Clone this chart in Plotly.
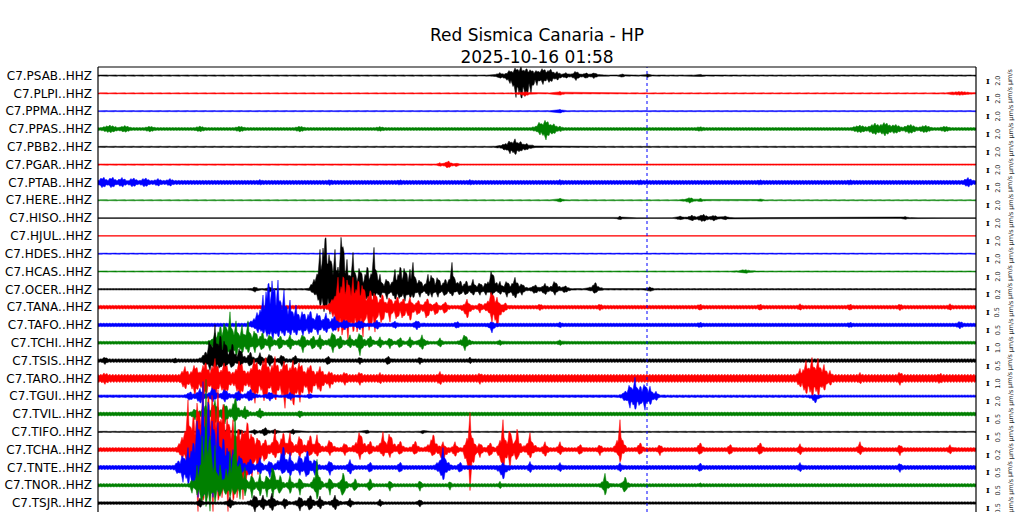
import numpy as np
import plotly.graph_objects as go

TITLE = "Red Sismica Canaria - HP<br>2025-10-16 01:58"

STATIONS = ["C7.PSAB..HHZ", "C7.PLPI..HHZ", "C7.PPMA..HHZ", "C7.PPAS..HHZ", "C7.PBB2..HHZ",
            "C7.PGAR..HHZ", "C7.PTAB..HHZ", "C7.HERE..HHZ", "C7.HISO..HHZ", "C7.HJUL..HHZ",
            "C7.HDES..HHZ", "C7.HCAS..HHZ", "C7.OCER..HHZ", "C7.TANA..HHZ", "C7.TAFO..HHZ",
            "C7.TCHI..HHZ", "C7.TSIS..HHZ", "C7.TARO..HHZ", "C7.TGUI..HHZ", "C7.TVIL..HHZ",
            "C7.TIFO..HHZ", "C7.TCHA..HHZ", "C7.TNTE..HHZ", "C7.TNOR..HHZ", "C7.TSJR..HHZ"]

SCALES = ["2.0"] * 12 + ["0.2", "0.5", "0.5", "1.0", "0.5", "1.0", "2.0", "0.5", "0.5",
                         "0.2", "0.5", "0.5", "0.5"]

PALETTE = ["#000000", "#ff0000", "#0000ff", "#008000"]

# time window (arbitrary seconds) and marker time
T_START, T_END = 98, 976
MARK_TIME = 647

# background noise half-amplitude per trace
NOISE = [0.6, 0.6, 0.6, 1.6, 0.6, 0.7, 2.2, 0.6, 0.4, 0.4, 0.6, 0.6, 0.8,
         2.0, 1.9, 1.6, 1.9, 4.2, 1.3, 2.0, 0.6, 2.2, 2.2, 1.8, 1.4]

# bursts: (time, amplitude up, amplitude down, half duration)
SPIKES = [
    # PSAB
    [(500,3,3,5),(510,6,8,4),(516,9,22,4),(521,9,27,4),(526,8,25,4),(531,7,18,4),(537,6,10,4),
     (543,8,9,5),(550,7,8,5),(557,4,5,5),(566,3,3,4),(576,5,5,4),(586,3,3,4),(594,3,3,4),
     (622,2,2,3),(648,2,2,3),(700,1.5,1.5,3)],
    # PLPI
    [(525,2,3,5),(560,2,2,5),(960,2,2,15)],
    # PPMA
    [(560,2,2,5)],
    # PPAS
    [(110,4,4,10),(125,3.5,3.5,8),(150,3,3,8),(200,3,3,8),(240,3,3,8),(300,3,3,8),(380,2.5,2.5,8),
     (540,8,6,4),(546,10,11,5),(553,6,6,5),(560,3,3,5),(700,2.5,2.5,8),(860,4,4,10),(875,6,6,8),
     (885,7,7,8),(895,5,5,8),(910,5,5,8),(925,4,4,8),(945,3,3,8)],
    # PBB2
    [(505,4,4,4),(510,7,7,4),(515,8,9,4),(520,6,6,4),(526,4,4,4),(532,2,2,4)],
    # PGAR
    [(448,4,4,4),(440,2,2,3),(456,2,2,3)],
    # PTAB
    [(103,6,6,5),(112,6,6,5),(122,5,5,6),(133,5,5,6),(145,5,5,6),(158,4,4,6),(170,4,4,6),
     (260,3,3,6),(330,3,3,6),(400,3,3,6),(470,3,3,6),(560,3,3,6),
     (640,3,3,6),(760,3,3,6),(850,3,3,6),(968,5,5,6)],
    # HERE
    [(690,3,3,5),(700,2,2,4),(560,2,2,4),(760,1.5,1.5,4)],
    # HISO
    [(620,2,2,3),(680,2,2,4),(692,3,3,5),(703,4,4,6),(714,3,3,5),(725,2,2,4),(905,1.5,1.5,4)],
    # HJUL
    [],
    # HDES
    [],
    # HCAS
    [(745,2,2,8)],
    # OCER
    [(255,3,3,3),(270,3,3,3),(313,3,3,4),(320,40,20,3),(325,62,27,4),(330,45,25,3),(335,40,22,3),
     (342,67,20,3),(347,30,15,3),(353,37,15,3),(360,27,13,3),(367,27,13,3),(374,42,12,3),
     (380,15,10,3),(387,13,10,3),(395,20,12,3),(400,27,12,3),(405,27,12,3),(410,20,10,3),
     (413,27,10,3),(420,12,8,3),(428,15,8,3),(432,18,8,3),(438,15,8,3),(445,12,8,3),
     (452,27,8,3),(460,10,7,3),(466,10,7,3),(473,10,7,3),(480,8,6,3),(486,8,6,3),(492,23,8,3),
     (500,8,6,3),(507,10,8,3),(515,12,10,4),(522,7,6,3),(535,5,5,4),(545,6,6,4),(555,10,6,3),
     (565,4,4,4),(595,8,5,3),(650,2.5,2.5,4)],
    # TANA
    [(333,10,10,3),(338,30,30,3),(343,37,36,3),(348,35,33,3),(353,30,30,3),(358,32,32,3),
     (363,28,30,3),(370,20,30,3),(375,18,25,3),(382,15,20,3),(390,12,15,3),(397,12,15,3),
     (403,10,14,3),(410,10,16,3),(418,8,10,3),(427,10,14,3),(436,6,10,3),(445,6,8,3),
     (467,8,13,3),(480,5,6,3),(492,19,16,3),(497,10,24,3),(505,5,5,3),(540,3.5,3.5,4),
     (600,3.5,3.5,4),(700,3.5,3.5,4),(760,3.5,3.5,4),(800,3.5,3.5,4),(850,3.5,3.5,4),
     (900,3.5,3.5,4),(950,3.5,3.5,4)],
    # TAFO
    [(258,15,8,4),(263,30,10,4),(268,50,14,4),(273,53,15,4),(278,45,14,4),(284,35,13,4),
     (290,25,12,4),(296,20,12,4),(303,16,11,4),(310,16,11,4),(318,14,10,4),(326,12,9,4),
     (334,10,8,4),(345,6,5,5),(360,5,5,5),(377,5,5,4),(395,4,4,4),(417,5,5,4),(457,4,4,4),
     (492,4,8,3),(560,3,3,5),(700,3,3,5),(850,3,3,5),(960,4,4,5)],
    # TCHI
    [(215,10,10,3),(220,20,15,3),(225,25,17,3),(230,31,17,3),(236,22,15,3),(242,18,12,3),
     (248,22,12,3),(255,15,10,3),(262,12,9,3),(270,10,8,3),(280,8,8,3),(290,8,8,3),
     (303,10,10,3),(313,8,8,3),(320,8,8,3),(333,13,10,3),(340,8,8,3),(350,8,6,3),(360,12,13,3),
     (370,8,6,3),(380,6,6,3),(390,6,6,3),(400,6,6,3),(410,6,6,3),(422,8,8,3),(440,5,5,3),
     (465,10,8,3),(500,3,3,4),(560,3,3,4)],
    # TSIS
    [(105,4,4,4),(175,3,3,3),(205,10,6,3),(210,25,10,3),(215,36,11,3),(220,30,10,3),
     (225,25,10,3),(232,20,9,3),(240,15,8,3),(250,10,7,3),(260,8,6,3),(270,8,6,3),(282,7,6,3),
     (295,6,5,3),(328,5,5,3),(360,4,4,3),(388,5,5,3),(420,4,4,3),(470,3.5,3.5,3)],
    # TARO
    [(105,6,6,8),(185,12,12,5),(195,15,18,5),(205,18,20,5),(215,20,22,5),(225,18,20,5),
     (240,20,22,5),(255,22,25,5),(265,24,26,5),(275,22,25,5),(285,20,30,5),(293,18,31,5),
     (300,18,24,5),(310,15,20,5),(320,12,15,5),(330,8,10,5),(345,7,7,5),(360,7,7,5),
     (380,6,6,5),(440,7,7,5),(480,6,6,5),(800,10,10,4),(806,18,18,4),(812,21,21,4),
     (818,20,20,4),(824,14,14,4),(830,8,8,4),(860,6,6,5),(900,7,7,5),(940,6,6,5)],
    # TGUI
    [(190,5,5,4),(200,8,8,4),(213,10,6,4),(225,8,6,4),(238,6,6,4),(250,8,6,4),(270,5,5,4),
     (290,4,4,4),(310,3,3,4),(625,6,6,3),(630,14,12,3),(635,19,16,3),(640,12,12,3),
     (645,15,14,3),(650,10,10,3),(656,5,5,3),(815,2,8,3)],
    # TVIL
    [(195,6,6,4),(205,10,8,4),(215,14,10,4),(225,12,10,4),(235,19,10,3),(245,8,6,4),
     (260,6,5,4),(300,4,4,4)],
    # TIFO
    [(227,3,3,3),(240,3,3,3),(255,3,3,3),(265,5,5,3),(275,3,3,3),(293,3,3,3),(367,2,2,3),
     (423,2,2,3)],
    # TCHA
    [(182,10,10,3),(188,50,20,3),(193,40,40,3),(198,60,62,3),(203,70,62,3),(208,65,62,3),
     (213,70,62,3),(218,60,62,3),(223,55,62,3),(228,40,62,3),(233,30,62,3),(238,25,62,3),
     (243,25,50,3),(247,33,40,3),(252,20,30,3),(258,15,25,3),(265,12,15,3),(275,20,10,3),
     (283,20,10,3),(290,17,8,3),(300,17,8,3),(310,17,8,3),(317,15,8,3),(330,12,6,3),
     (345,8,6,3),(360,22,10,3),(370,10,6,3),(383,18,8,3),(390,20,8,3),(400,10,6,3),
     (415,10,6,3),(433,18,8,3),(443,8,15,3),(455,8,8,3),(470,37,50,2),(480,8,8,3),
     (490,8,8,3),(503,30,33,2),(510,28,20,2),(517,25,15,2),(530,17,10,3),(545,8,8,3),
     (560,8,6,3),(580,6,6,3),(600,6,6,3),(620,30,15,2),(640,8,6,3),(660,6,6,3),(700,8,6,3),
     (730,6,6,3),(760,8,6,3),(800,6,6,3),(860,8,6,3),(900,6,6,3),(950,5,5,3)],
    # TNTE
    [(178,8,8,3),(183,15,15,3),(188,20,20,3),(193,30,25,3),(198,60,30,3),(203,86,35,3),
     (208,80,35,3),(213,60,30,3),(218,45,30,3),(223,35,25,3),(228,25,20,3),(233,18,15,3),
     (240,15,12,3),(250,10,10,3),(260,10,8,3),(270,8,10,3),(283,25,8,3),(290,15,10,3),
     (300,15,8,3),(307,20,12,3),(315,10,8,3),(330,8,8,3),(350,8,8,3),(370,6,6,3),(400,6,6,3),
     (443,20,15,3),(460,6,6,3),(503,5,14,3),(530,6,6,3),(560,5,5,3),(620,5,5,3),(700,5,5,3),
     (800,5,5,3),(900,5,5,3)],
    # TNOR
    [(192,8,8,1.5),(197,20,12,1.5),(202,60,26,1.5),(206,106,26,1.5),(210,80,26,1.5),
     (215,40,22,1.5),(220,25,18,1.5),(226,20,15,1.5),(230,35,15,1.5),(235,91,15,1.5),
     (240,35,14,1.5),(245,18,13,1.5),(252,14,13,2),(260,12,13,2),(267,14,12,2),(273,26,12,2),
     (280,12,12,2),(290,10,10,2),(300,10,10,2),(317,26,17,2),(330,10,10,2),(343,15,15,2),
     (355,8,8,2),(370,8,8,2),(390,6,6,2),(420,6,6,2),(450,5,5,2),(500,4,4,2),(605,12,12,2),
     (625,10,10,2),(700,3,3,2)],
    # TSJR
    [(200,5,5,3),(230,6,6,3),(255,10,9,3),(263,8,8,3),(272,10,9,3),(285,6,6,3),(300,8,8,3),
     (310,9,9,3),(320,7,7,3),(335,8,8,3),(350,5,5,3),(380,4,4,3),(420,4,4,3)],
]

ROW_PX = 17.84  # amplitude units per trace spacing
SPREAD = 1.5    # drawing: sharp peak width factor
SHOULDER = 4.0  # drawing: broad coda shoulder width factor


def burst_shape(t, tc, w):
    peak = np.clip(1 - np.abs(t - tc) / (w * SPREAD), 0, 1)
    coda = 0.5 * np.clip(1 - np.abs(t - tc) / (w * SHOULDER), 0, 1)
    return np.maximum(peak, coda)


fig = go.Figure()
t = np.arange(T_START - 3, T_END + 3.01, 1.0)
idx = np.arange(len(t))
teeth = np.choose(idx % 3, [1.0, 0.62, 0.82])
for i, name in enumerate(STATIONS):
    up = np.full_like(t, NOISE[i])
    dn = np.full_like(t, NOISE[i])
    for (tc, au, ad, w) in SPIKES[i]:
        s = burst_shape(t, tc, w)
        up = np.maximum(up, au * s)
        dn = np.maximum(dn, ad * s)
    up = np.maximum(up * teeth, 0.35)
    dn = np.maximum(dn * np.roll(teeth, 1), 0.35)
    base = -i
    xs = np.concatenate([t, t[::-1]])
    ys = np.concatenate([base + up / ROW_PX, (base - dn / ROW_PX)[::-1]])
    col = PALETTE[i % 4]
    fig.add_trace(go.Scatter(x=xs, y=ys, mode="lines", fill="toself", fillcolor=col,
                             line=dict(color=col, width=0.5), hoverinfo="skip",
                             showlegend=False))

annotations = []
for i, sc in enumerate(SCALES):
    annotations.append(dict(x=1.0137, xref="paper", y=-i - 0.28, yref="y", text="<b>I</b>",
                            showarrow=False, font=dict(family="DejaVu Serif", size=8, color="black"),
                            xanchor="center", yanchor="middle"))
    annotations.append(dict(x=1.025, xref="paper", y=-i - 0.3, yref="y", text=sc,
                            showarrow=False, textangle=-90,
                            font=dict(family="DejaVu Sans", size=6.5, color="#222222"),
                            xanchor="center", yanchor="middle"))
    annotations.append(dict(x=1.0395, xref="paper", y=-i - 0.05, yref="y", text="µm/s",
                            showarrow=False, textangle=-90,
                            font=dict(family="DejaVu Sans", size=6.5, color="#222222"),
                            xanchor="center", yanchor="middle"))

shapes = [
    dict(type="line", xref="x", yref="paper", x0=MARK_TIME, x1=MARK_TIME, y0=0, y1=1,
         line=dict(color="#0000ff", width=1, dash="dot")),
    dict(type="line", xref="paper", yref="paper", x0=0, x1=1, y0=1, y1=1,
         line=dict(color="black", width=1.2)),
    dict(type="line", xref="paper", yref="paper", x0=0, x1=0, y0=0, y1=1,
         line=dict(color="black", width=1.2)),
    dict(type="line", xref="paper", yref="paper", x0=1, x1=1, y0=0, y1=1,
         line=dict(color="black", width=1.2)),
]

fig.update_layout(
    width=1024, height=512,
    margin=dict(l=98, r=48, t=67, b=0, autoexpand=False),
    paper_bgcolor="white", plot_bgcolor="white",
    title=dict(text=TITLE, x=0.5, xref="paper", xanchor="center", y=1 - 41 / 512,
               yref="container", yanchor="middle", automargin=False,
               font=dict(family="DejaVu Sans", size=17, color="black")),
    xaxis=dict(range=[T_START, T_END], showgrid=False, zeroline=False, showticklabels=False,
               ticks="", showline=False, automargin=False),
    yaxis=dict(range=[-24.5, 0.48], showgrid=False, zeroline=False, automargin=False,
               tickmode="array", tickvals=[-i for i in range(len(STATIONS))], ticktext=STATIONS,
               ticks="", showline=False, ticklabelstandoff=5,
               tickfont=dict(family="DejaVu Sans", size=12, color="black")),
    annotations=annotations, shapes=shapes,
)

fig.write_html("out.html", config={"displayModeBar": False},
               post_script="document.body.style.margin='0';")
